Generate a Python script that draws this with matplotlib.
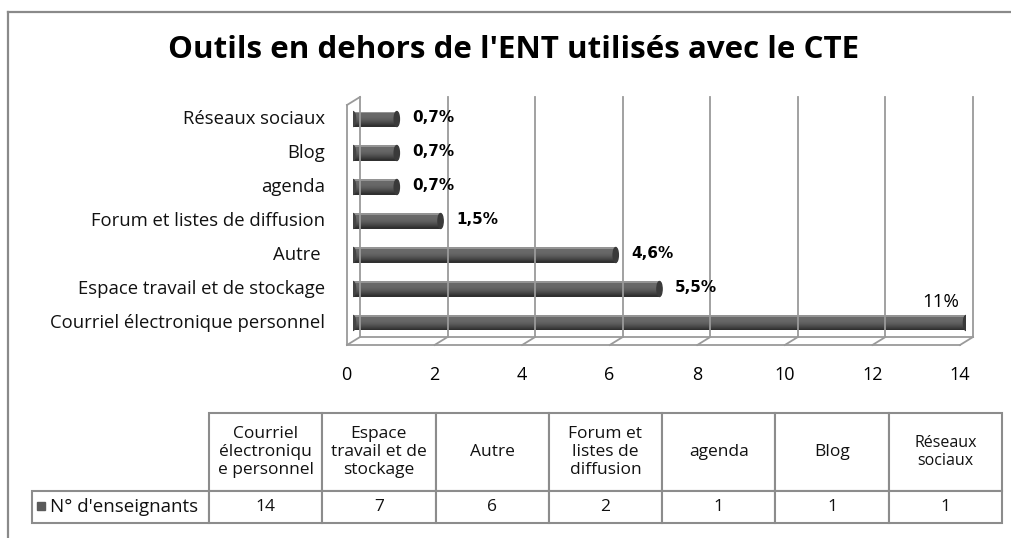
import numpy as np
import matplotlib
matplotlib.use("Agg")
import matplotlib.pyplot as plt
import matplotlib.transforms as mtransforms
from matplotlib.patches import Ellipse, Rectangle
from matplotlib.lines import Line2D
from matplotlib.table import Table

# data
categories = ["Courriel électronique personnel", "Espace travail et de stockage", "Autre ",
              "Forum et listes de diffusion", "agenda", "Blog", "Réseaux sociaux"]
nb_enseignants = [14, 7, 6, 2, 1, 1, 1]
pct_labels = ["11%", "5,5%", "4,6%", "1,5%", "0,7%", "0,7%", "0,7%"]
table_headers = ["Courriel\nélectroniqu\ne personnel", "Espace\ntravail et de\nstockage", "Autre",
                 "Forum et\nlistes de\ndiffusion", "agenda", "Blog", "Réseaux\nsociaux"]
series_name = "N° d'enseignants"
x_ticks = [0, 2, 4, 6, 8, 10, 12, 14]
title = "Outils en dehors de l'ENT utilisés avec le CTE"

W, H = 1011, 538
FONT = ["Open Sans", "DejaVu Sans"]
GRID = "#9a9a9a"


def frac(l, t, r, b):
    """pixel box (left, top, right, bottom) -> figure fraction rect"""
    return [l / W, 1 - b / H, (r - l) / W, (b - t) / H]


def shade(i, n):
    # dark underneath, lighter towards the top edge, like a lit cylinder
    t = i / (n - 1)
    if i == n - 1:
        return (0.58, 0.58, 0.58)
    g = 0.19 + 0.22 * np.sin(np.pi / 2 * min(t / 0.8, 1.0))
    return (g, g, g)


def style_cell(cell, size):
    cell.set_edgecolor("#8c8c8c")
    cell.set_linewidth(1.5)
    txt = cell.get_text()
    txt.set_fontfamily(FONT)
    txt.set_fontsize(size)
    txt.set_color("#111111")


def main():
    fig = plt.figure(figsize=(W / 100, H / 100), dpi=100)

    # outer frame of the chart object
    fig.add_artist(Line2D([8 / W, 8 / W], [0, 1 - 12 / H], color="#8a8a8a", lw=1.6))
    fig.add_artist(Line2D([8 / W, 1], [1 - 12 / H, 1 - 12 / H], color="#8a8a8a", lw=1.6))

    fig.text(0.508, 1 - 50 / H, title, ha="center", va="center",
             fontsize=22.5, fontweight="bold", family=FONT)

    ax = fig.add_axes(frac(353, 101, 966, 341))
    ax.set_xlim(0, 14)
    y0, y1 = -0.53, 6.53
    ax.set_ylim(y0, y1)
    ax.axis("off")

    # 3d depth: back wall pushed up/right, front edge down/left (pixels)
    back = ax.transData + mtransforms.Affine2D().translate(7, 4)
    front = ax.transData + mtransforms.Affine2D().translate(-6, -4)

    for v in x_ticks:
        ax.plot([v, v], [y0, y1], transform=back, color=GRID, lw=1.3, clip_on=False)
        p, q = back.transform((v, y0)), front.transform((v, y0))
        fig.add_artist(Line2D([p[0], q[0]], [p[1], q[1]], transform=None, color=GRID, lw=1.3))
    ax.plot([0, 14], [y0, y0], transform=back, color=GRID, lw=1.3, clip_on=False)
    ax.plot([0, 14], [y0, y0], transform=front, color=GRID, lw=1.3, clip_on=False)
    ax.plot([0, 0], [y0, y1], transform=front, color=GRID, lw=1.3, clip_on=False)
    p, q = back.transform((0, y1)), front.transform((0, y1))
    fig.add_artist(Line2D([p[0], q[0]], [p[1], q[1]], transform=None, color=GRID, lw=1.3))

    ys = np.arange(len(categories))
    h = 0.44
    cap = 0.12
    n = 14
    for i in range(n):
        off = -h / 2 + (i + 0.5) * h / n
        ax.barh(ys + off, nb_enseignants, height=h / n + 0.002, color=shade(i, n), lw=0)
    for y, v in zip(ys, nb_enseignants):
        ax.add_patch(Ellipse((v, y), cap, h, color="#3a3a3a", zorder=3))
        ax.add_patch(Ellipse((0, y), cap, h, color="#444444", zorder=1))

    for y, v, lbl in zip(ys, nb_enseignants, pct_labels):
        if v == max(nb_enseignants):
            ax.annotate(lbl, (v, y), xytext=(-5, 15), textcoords="offset points",
                        ha="right", va="center", fontsize=13.5, family=FONT)
        else:
            ax.annotate(lbl, (v, y), xytext=(11, 1), textcoords="offset points",
                        ha="left", va="center", fontsize=11, fontweight="bold",
                        family="DejaVu Sans")

    for y, c in zip(ys, categories):
        ax.annotate(c, (0, y), xycoords=("axes fraction", "data"), xytext=(-20, 0),
                    textcoords="offset points", ha="right", va="center",
                    fontsize=13.3, family=FONT, color="#111111")

    for v in x_ticks:
        ax.annotate(str(v), (v, 0), xycoords=("data", "axes fraction"),
                    xytext=(-4.5, -24.5), textcoords="offset points",
                    ha="center", va="center", fontsize=13, family=FONT)

    # data table below the chart; bbox covers the value columns, row label sits left of it
    tw, th = 970.0, 110.0
    lab_w = 177.0
    col_w = (tw - lab_w) / len(nb_enseignants)
    tax = fig.add_axes(frac(32, 413, 1002, 523))
    tax.axis("off")
    tbl = Table(tax, bbox=[lab_w / tw, 0, 1 - lab_w / tw, 1])
    tbl.auto_set_font_size(False)
    for c, (hdr, v) in enumerate(zip(table_headers, nb_enseignants)):
        cell = tbl.add_cell(0, c, col_w / tw, 78 / th, text=hdr, loc="center")
        style_cell(cell, 11.5 if c == len(table_headers) - 1 else 12.5)
        cell = tbl.add_cell(1, c, col_w / tw, 32 / th, text=str(v), loc="center")
        style_cell(cell, 12.5)
    cell = tbl.add_cell(1, -1, lab_w / tw, 32 / th, text=series_name, loc="left")
    style_cell(cell, 13.5)
    tax.add_table(tbl)
    tax.add_patch(Rectangle(((37 - 32) / tw, (523 - 510) / th), 8 / tw, 8 / th,
                            transform=tax.transAxes, color="#5a5a5a", clip_on=False))

    fig.savefig("out.png", dpi=100)


if __name__ == "__main__":
    main()
